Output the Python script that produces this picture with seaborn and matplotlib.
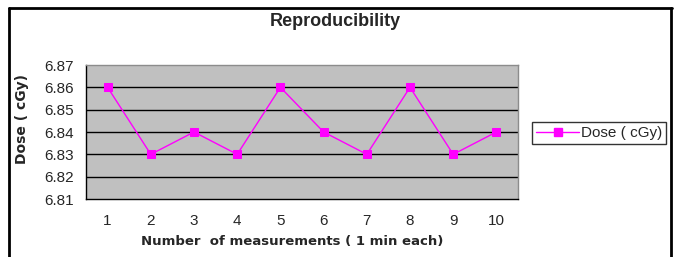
import matplotlib
matplotlib.use("Agg")
import matplotlib.pyplot as plt
import matplotlib.lines as mlines
import seaborn as sns
import pandas as pd
from matplotlib.ticker import FixedLocator, NullFormatter

# Data
measurements = [1, 2, 3, 4, 5, 6, 7, 8, 9, 10]
dose = [6.86, 6.83, 6.84, 6.83, 6.86, 6.84, 6.83, 6.86, 6.83, 6.84]
y_ticks = [6.81, 6.82, 6.83, 6.84, 6.85, 6.86, 6.87]

df = pd.DataFrame({"measurement": measurements, "dose": dose})

sns.set_style("white")
plt.rcParams["font.family"] = ["Liberation Sans", "DejaVu Sans"]

fig = plt.figure(figsize=(6.78, 2.57), dpi=100)
ax = fig.add_axes([86 / 678, 1 - 199 / 257, 432 / 678, 134 / 257])
ax.set_facecolor("#c0c0c0")

# Horizontal gridlines (Excel style)
for yv in y_ticks[1:-1]:
    ax.axhline(yv, color="black", lw=1.0, zorder=1)

sns.lineplot(
    data=df, x="measurement", y="dose", ax=ax,
    color="#ff00ff", lw=1.0, marker="s", markersize=6,
    markeredgecolor="#ff00ff", zorder=3, legend=False,
)

ax.set_xlim(0.5, 10.5)
ax.set_ylim(6.81, 6.87)
ax.set_yticks(y_ticks)
ax.set_yticklabels([f"{v:.2f}" for v in y_ticks], fontsize=11)
ax.set_xticks(measurements)
ax.set_xticklabels([str(m) for m in measurements], fontsize=11)
ax.xaxis.set_minor_locator(FixedLocator([m + 0.5 for m in range(0, 11)]))
ax.xaxis.set_minor_formatter(NullFormatter())
ax.tick_params(axis="x", which="major", length=0, pad=11)
ax.tick_params(axis="x", which="minor", length=4, width=1, color="black", direction="out")
ax.tick_params(axis="y", length=5, width=1, color="black", direction="out", pad=4)

for side in ["top", "right"]:
    ax.spines[side].set_color("#8c8c8c")
    ax.spines[side].set_linewidth(1)
for side in ["left", "bottom"]:
    ax.spines[side].set_color("black")
    ax.spines[side].set_linewidth(1)

ax.set_xlabel("")
ax.set_ylabel("")

fig.text(335 / 678, 1 - 22 / 257, "Reproducibility", ha="center", va="center",
         fontsize=13, fontweight="bold")
fig.text(292 / 678, 1 - 241 / 257, "Number  of measurements ( 1 min each)",
         ha="center", va="center", fontsize=9.5, fontweight="bold",
         family="DejaVu Sans")
fig.text(22 / 678, 1 - 119 / 257, "Dose ( cGy)", ha="center", va="center",
         rotation=90, fontsize=10, fontweight="bold", family="DejaVu Sans")

# Legend
handle = mlines.Line2D([], [], color="#ff00ff", lw=1.0, marker="s",
                       markersize=6, markeredgecolor="#ff00ff")
leg = fig.legend([handle], ["Dose ( cGy)"], loc="center",
                 bbox_to_anchor=(599 / 678, 1 - 133 / 257), fontsize=11,
                 frameon=True, fancybox=False, edgecolor="black",
                 handlelength=2.8, handletextpad=0.1, borderpad=0.25,
                 borderaxespad=0)
leg.get_frame().set_linewidth(1.0)

# Outer frame: left, top and right lines
fig.add_artist(mlines.Line2D([9 / 678, 9 / 678], [0, 1 - 8 / 257],
                             transform=fig.transFigure, color="black", lw=2))
fig.add_artist(mlines.Line2D([9 / 678, 672 / 678], [1 - 8 / 257, 1 - 8 / 257],
                             transform=fig.transFigure, color="black", lw=2))
fig.add_artist(mlines.Line2D([671 / 678, 671 / 678], [0, 1 - 8 / 257],
                             transform=fig.transFigure, color="black", lw=2))

fig.savefig("out.png", dpi=100, facecolor="white")
